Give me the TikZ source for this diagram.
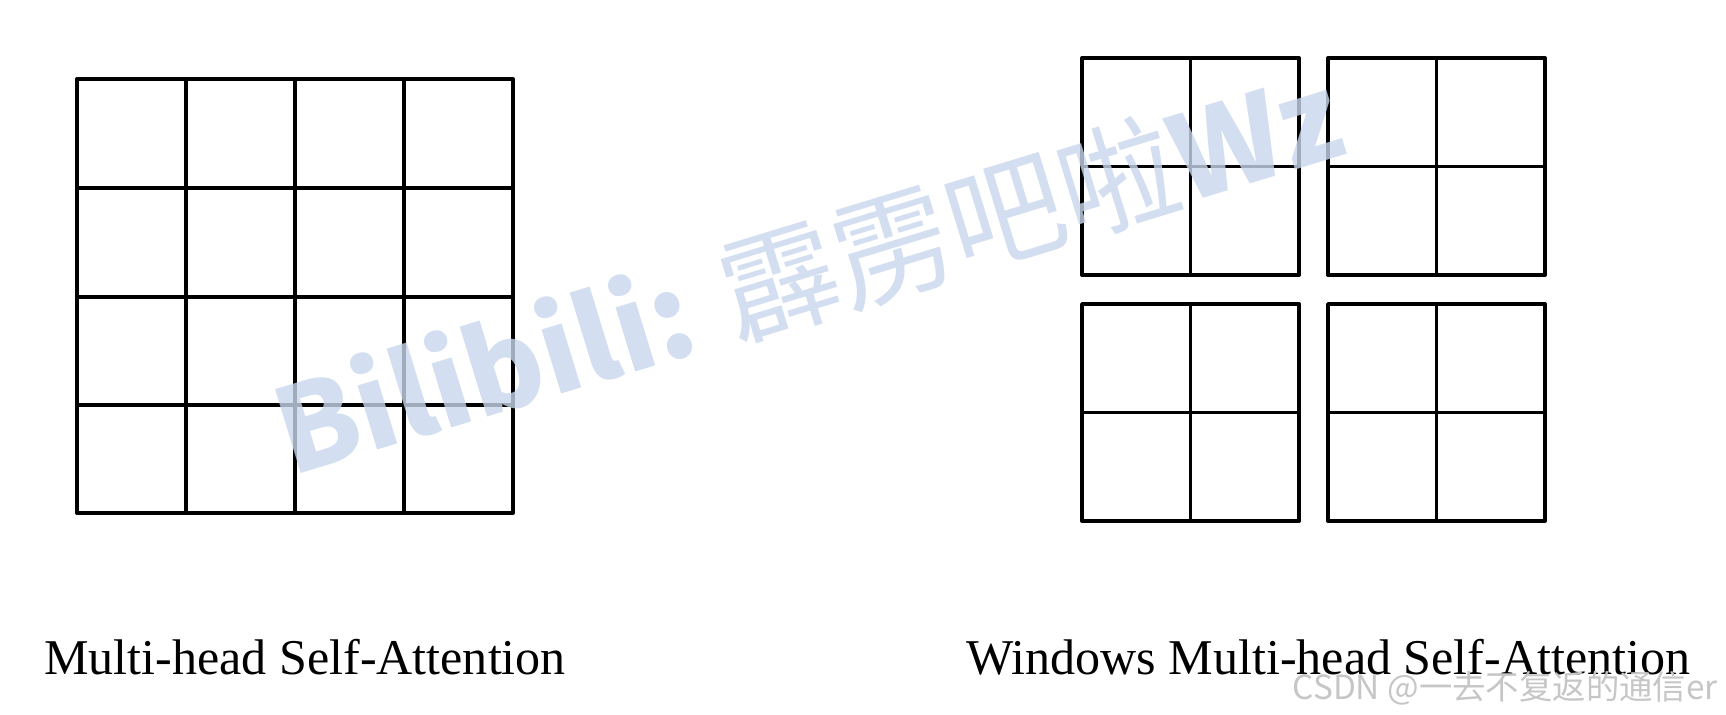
\documentclass[tikz,border=0pt]{standalone}
\usepackage{fontspec}
\setmainfont{Liberation Serif}
\newfontfamily\cjk{Noto Sans CJK SC}
\definecolor{filigrane}{RGB}{200,214,236}

\begin{document}
\begin{tikzpicture}[x=0.02cm, y=-0.02cm]
	% Styles des traits et des légendes
	\tikzset{
		trait/.style={line width=2.2pt, join=round},
		legende/.style={anchor=base west, inner sep=0pt, font=\fontsize{28.5}{34}\selectfont},
	}
	\useasboundingbox (0,0) rectangle (1726,715);
	% Grille 4x4
	\draw[trait] (77,79) rectangle (513,513);
	\draw[trait] (186,79) -- (186,513) (295,79) -- (295,513) (404,79) -- (404,513);
	\draw[trait] (77,188) -- (513,188) (77,297) -- (513,297) (77,405) -- (513,405);
	% Quatre fenêtres 2x2
	\begin{scope}[shift={(1082,58)}]
		\draw[trait] (0,0) rectangle (217,217) (108.5,0) -- (108.5,217) (0,108.5) -- (217,108.5);
	\end{scope}
	\begin{scope}[shift={(1328,58)}]
		\draw[trait] (0,0) rectangle (217,217) (108.5,0) -- (108.5,217) (0,108.5) -- (217,108.5);
	\end{scope}
	\begin{scope}[shift={(1082,304)}]
		\draw[trait] (0,0) rectangle (217,217) (108.5,0) -- (108.5,217) (0,108.5) -- (217,108.5);
	\end{scope}
	\begin{scope}[shift={(1328,304)}]
		\draw[trait] (0,0) rectangle (217,217) (108.5,0) -- (108.5,217) (0,108.5) -- (217,108.5);
	\end{scope}
	\node[legende] (msa) at (44,674) {Multi-head Self-Attention};
	\node[legende] (wmsa) at (966,674) {Windows Multi-head Self-Attention};
	% Filigranes
	\node[text=filigrane, opacity=0.8, rotate=17, font=\cjk\fontsize{67}{72}\selectfont] (bili) at (808,272) {{\bfseries Bilibili:} 霹雳吧啦{\bfseries Wz}};
	\node[text=gray!45, anchor=base east, inner sep=0pt, font=\cjk\fontsize{19}{21}\selectfont] (csdn) at (1718,699) {CSDN @一去不复返的通信er};
\end{tikzpicture}
\end{document}
